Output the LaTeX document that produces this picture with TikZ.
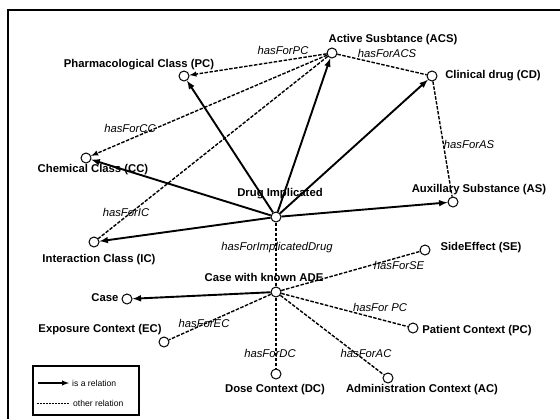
\documentclass[tikz,border=0pt]{standalone}
\usepackage{fontspec}
\setmainfont{Liberation Sans}
\usepackage{tikz}
\usetikzlibrary{positioning}

\tikzset{
  dot/.style={draw, circle, fill=white, inner sep=0pt, minimum size=10pt, line width=1pt},
  cls/.style={font=\fontsize{11.3}{13}\selectfont\bfseries, inner sep=0pt},
  rel/.style={font=\fontsize{11.3}{13}\selectfont\itshape, inner sep=0pt},
  isa/.style={->, >=latex, line width=1.9pt},
  other/.style={line width=1.4pt, dash pattern=on 3.5pt off 1.5pt},
}

\begin{document}
\begin{tikzpicture}[x=1pt, y=-1pt]
\useasboundingbox (0,0) rectangle (560,418);
\draw[line width=1.8pt] (8,425) -- (8,10) -- (565,10);

% classes
\node[dot] (acs) at (332,53) {};
\node[dot] (cd) at (432,76) {};
\node[dot] (pc) at (184,76) {};
\node[dot] (cc) at (86,158) {};
\node[dot] (as) at (453,202) {};
\node[dot] (di) at (276,217) {};
\node[dot] (ic) at (94,242) {};
\node[dot] (ade) at (276,292) {};
\node[dot] (case) at (127,299) {};
\node[dot] (se) at (425,250) {};
\node[dot] (pac) at (413,328) {};
\node[dot] (ec) at (164,342) {};
\node[dot] (dc) at (276,374) {};
\node[dot] (ac) at (388,378) {};

\node[cls] (acs-t) at (393,40) {Active Susbtance (ACS)};
\node[cls] (cd-t) at (493,76) {Clinical drug (CD)};
\node[cls] (pc-t) at (139,65) {Pharmacological Class (PC)};
\node[cls] (cc-t) at (93,170) {Chemical Class (CC)};
\node[cls] (as-t) at (479,190) {Auxillary Substance (AS)};
\node[cls] (di-t) at (280,194) {Drug Implicated};
\node[cls] (ic-t) at (99,260) {Interaction Class (IC)};
\node[cls] (ade-t) at (264,277) {Case with known ADE};
\node[cls] (case-t) at (105,298) {Case};
\node[cls] (se-t) at (481,248) {SideEffect (SE)};
\node[cls] (pac-t) at (477,331) {Patient Context (PC)};
\node[cls] (ec-t) at (100,330) {Exposure Context (EC)};
\node[cls] (dc-t) at (275,390) {Dose Context (DC)};
\node[cls] (ac-t) at (422,390) {Administration Context (AC)};

% is a relation
\draw[isa] (di) -- (pc);
\draw[isa] (di) -- (acs);
\draw[isa] (di) -- (cd);
\draw[isa] (di) -- (as);
\draw[isa] (di) -- (cc);
\draw[isa] (di) -- (ic);
\draw[isa] (ade) -- (case);

% other relations
\draw[other, ->, >=latex] (acs) -- (pc);
\draw[other, ->, >=latex] (acs) -- (cc);
\draw[other] (acs) -- (ic);
\draw[other] (acs) -- (cd);
\draw[other] (cd) -- (as);
\draw[other] (di) -- (ade);
\draw[other] (ade) -- (se);
\draw[other] (ade) -- (pac);
\draw[other] (ade) -- (ec);
\draw[other] (ade) -- (dc);
\draw[other] (ade) -- (ac);

\node[rel] (r-pc) at (283,50) {hasForPC};
\node[rel] (r-acs) at (387,53) {hasForACS};
\node[rel] (r-cc) at (130,128) {hasForCC};
\node[rel] (r-ic) at (126,212) {hasForIC};
\node[rel] (r-as) at (469,144) {hasForAS};
\node[rel] (r-di) at (277,248) {hasForImplicatedDrug};
\node[rel] (r-se) at (399,265) {hasForSE};
\node[rel] (r-pac) at (380,307) {hasFor PC};
\node[rel] (r-ec) at (204,323) {hasForEC};
\node[rel] (r-dc) at (270,353) {hasForDC};
\node[rel] (r-ac) at (366,353) {hasForAC};

% legend
\node[draw, line width=1.1pt, minimum width=106pt, minimum height=49pt, inner sep=0pt] (leg) at (86,390.5) {};
\coordinate (l1a) at (38,383);
\coordinate (l1b) at (69,383);
\coordinate (l2a) at (37,403);
\coordinate (l2b) at (69,403);
\draw[->, >=latex, line width=1.4pt] (l1a) -- (l1b);
\draw[line width=1pt, dash pattern=on 2pt off 1pt] (l2a) -- (l2b);
\node[font=\fontsize{8.6}{10}\selectfont, anchor=west, inner sep=0pt] (l1-t) at (72,383) {is a relation};
\node[font=\fontsize{8.6}{10}\selectfont, anchor=west, inner sep=0pt] (l2-t) at (73,403) {other relation};
\end{tikzpicture}
\end{document}
